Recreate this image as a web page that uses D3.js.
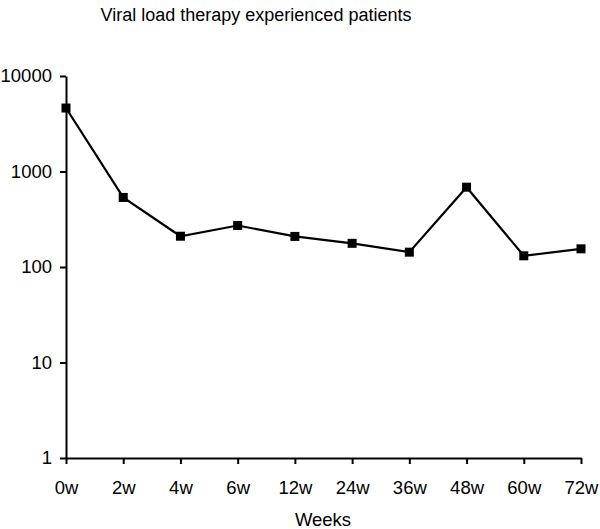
<!DOCTYPE html>
<html>
<head>
<meta charset="utf-8">
<script src="https://cdn.jsdelivr.net/npm/d3@7"></script>
<style>
  body { margin: 0; background: #fff; }
  svg { display: block; font-family: "Liberation Sans", Arial, sans-serif; }
  .axis path, .axis line { stroke: #000; stroke-width: 2; }
  .axis text { font-size: 18.5px; fill: #000; }
</style>
</head>
<body>
<script>
var weeks = ["0w", "2w", "4w", "6w", "12w", "24w", "36w", "48w", "60w", "72w"];
var viralLoad = [4620, 535, 210, 272, 209, 177, 143, 685, 131, 155];
var yTicks = [1, 10, 100, 1000, 10000];

var W = 600, H = 529;
var margin = { top: 76, right: 19, bottom: 71, left: 66 },
  width = W - margin.left - margin.right,
  height = H - margin.top - margin.bottom;

var svg = d3.select("body").append("svg")
  .attr("width", W)
  .attr("height", H);

var g = svg.append("g")
  .attr("transform", "translate(" + margin.left + "," + margin.top + ")");

var x = d3.scalePoint()
  .domain(weeks)
  .range([0, width]);

var y = d3.scaleLog()
  .domain([1, 10000])
  .range([height, 0]);

var data = weeks.map(function (w, i) { return { week: w, value: viralLoad[i] }; });

// axes
g.append("g")
  .attr("class", "axis")
  .attr("transform", "translate(0," + height + ")")
  .call(d3.axisBottom(x).tickSizeInner(6).tickSizeOuter(0).tickPadding(17))
  .selectAll("text").attr("dy", "0.71em");

g.append("g")
  .attr("class", "axis")
  .call(d3.axisLeft(y).tickValues(yTicks).tickFormat(d3.format("d")).tickSizeInner(6).tickSizeOuter(0).tickPadding(8));

// line
var line = d3.line()
  .x(function (d) { return x(d.week); })
  .y(function (d) { return y(d.value); });

g.append("path")
  .datum(data)
  .attr("fill", "none")
  .attr("stroke", "#000")
  .attr("stroke-width", 2.2)
  .attr("d", line);

g.selectAll("rect.pt").data(data).enter()
  .append("rect")
  .attr("class", "pt")
  .attr("x", function (d) { return x(d.week) - 4.5; })
  .attr("y", function (d) { return y(d.value) - 4.5; })
  .attr("width", 9)
  .attr("height", 9)
  .attr("fill", "#000");

// titles
svg.append("text")
  .attr("x", 256)
  .attr("y", 21)
  .attr("text-anchor", "middle")
  .style("font-size", "18px")
  .text("Viral load therapy experienced patients");

svg.append("text")
  .attr("x", 323)
  .attr("y", 526)
  .attr("text-anchor", "middle")
  .style("font-size", "18.5px")
  .text("Weeks");
</script>
</body>
</html>
